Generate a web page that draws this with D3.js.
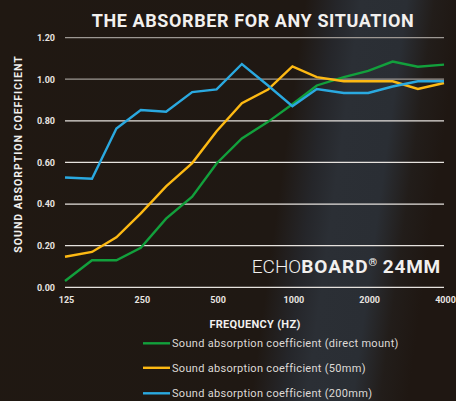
<!DOCTYPE html>
<html><head><meta charset="utf-8">
<script src="https://cdn.jsdelivr.net/npm/d3@7"></script>
<style>
html,body{margin:0;padding:0;background:#1e1712;}
svg{display:block;}
</style></head>
<body>
<svg id="chart" width="456" height="401"></svg>
<script>
const frequencies = [125,160,200,250,315,400,500,630,800,1000,1250,1600,2000,2500,3150,4000];
const directMount = [0.03,0.13,0.13,0.19,0.33,0.435,0.595,0.715,0.795,0.88,0.97,1.01,1.04,1.085,1.06,1.07];
const mm50 = [0.147,0.17,0.24,0.355,0.485,0.597,0.75,0.885,0.95,1.062,1.01,0.99,0.99,0.99,0.953,0.982];
const mm200 = [0.528,0.522,0.763,0.852,0.844,0.938,0.951,1.073,0.97,0.87,0.953,0.934,0.934,0.965,0.99,0.99];
const xTicks = [125,250,500,1000,2000,4000];
const yTicks = [0,0.2,0.4,0.6,0.8,1.0,1.2];
const seriesNames = ["Sound absorption coefficient (direct mount)","Sound absorption coefficient (50mm)","Sound absorption coefficient (200mm)"];
const seriesColors = ["#12a03c","#fdb913","#2aa9e0"];

const svg = d3.select("#chart");
const W = 456, H = 401;
const defs = svg.append("defs");
const g1 = defs.append("linearGradient").attr("id","bg").attr("x1","0").attr("y1","0").attr("x2","1").attr("y2","0.12");
[[0,"#201812"],[0.66,"#1f1813"],[0.73,"#25262a"],[0.78,"#2b2f35"],[0.88,"#2a2e34"],[0.94,"#221d1a"],[1,"#1f1712"]]
  .forEach(s=>g1.append("stop").attr("offset",s[0]).attr("stop-color",s[1]));
svg.append("rect").attr("width",W).attr("height",H).attr("fill","url(#bg)");

const x = d3.scaleLog().domain([125,4000]).range([65,444]);
const y = d3.scaleLinear().domain([0,1.2]).range([287.3,37.6]);

// grid
svg.append("g").selectAll("line").data(yTicks).join("line")
  .attr("x1",65).attr("x2",444)
  .attr("y1",d=>y(d)).attr("y2",d=>y(d))
  .attr("stroke",d=>d>=0.99?"#9d9893":"#e6e2de")
  .attr("stroke-width",1.3);

// y labels
const yAxis = d3.axisLeft(y).tickValues(yTicks).tickFormat(d3.format(".2f")).tickSize(0).tickPadding(0);
const ya = svg.append("g").attr("transform","translate(55,0)").call(yAxis);
ya.select(".domain").remove();
ya.selectAll("text").attr("fill","#e8e4e0").attr("font-family","Roboto, sans-serif").attr("font-weight","bold").attr("font-size","9px");

// x labels
const xAxis = d3.axisBottom(x).tickValues(xTicks).tickFormat(d=>d).tickSize(0).tickPadding(0);
const xa = svg.append("g").attr("transform","translate(1,297)").call(xAxis);
xa.select(".domain").remove();
xa.selectAll("text").attr("fill","#e8e4e0").attr("font-family","Roboto, sans-serif").attr("font-weight","bold").attr("font-size","9px");

// lines
const line = d3.line().x(d=>x(d[0])).y(d=>y(d[1]));
[directMount,mm50,mm200].forEach((vals,i)=>{
  svg.append("path").datum(frequencies.map((f,j)=>[f,vals[j]]))
    .attr("d",line).attr("fill","none").attr("stroke",seriesColors[i])
    .attr("stroke-width",2.4).attr("stroke-linejoin","miter");
});

// title
svg.append("text").attr("x",253).attr("y",27).attr("text-anchor","middle")
  .attr("fill","#f2f0ee").attr("font-family","Roboto, sans-serif").attr("font-weight","bold")
  .attr("font-size","18px").attr("letter-spacing","0.6px").text("THE ABSORBER FOR ANY SITUATION");

// y title
svg.append("text").attr("transform","translate(22,154) rotate(-90)").attr("text-anchor","middle")
  .attr("fill","#f2f0ee").attr("font-family","Roboto, sans-serif").attr("font-weight","bold")
  .attr("font-size","10.5px").attr("letter-spacing","1px").text("SOUND ABSORPTION COEFFICIENT");

// x title
svg.append("text").attr("x",255).attr("y",328).attr("text-anchor","middle")
  .attr("fill","#f2f0ee").attr("font-family","Roboto, sans-serif").attr("font-weight","bold")
  .attr("font-size","11px").attr("letter-spacing","0.3px").text("FREQUENCY (HZ)");

// brand
const brand = svg.append("text").attr("x",441).attr("y",273).attr("text-anchor","end")
  .attr("fill","#f2f0ee").attr("font-family","Roboto, sans-serif").attr("font-size","19px");
brand.append("tspan").attr("font-weight","300").text("ECHO");
brand.append("tspan").attr("font-weight","bold").attr("letter-spacing","1px").text("BOARD");
brand.append("tspan").attr("font-weight","bold").attr("font-size","11px").attr("dy","-7").text("®");
brand.append("tspan").attr("font-weight","bold").attr("dy","7").attr("letter-spacing","0.8px").text(" 24MM");

// legend
const legY = [343.3,367.8,393.3];
const leg = svg.append("g");
seriesNames.forEach((n,i)=>{
  leg.append("line").attr("x1",143).attr("x2",170).attr("y1",legY[i]).attr("y2",legY[i])
    .attr("stroke",seriesColors[i]).attr("stroke-width",2.4);
  leg.append("text").attr("x",172).attr("y",legY[i]+4).attr("fill","#dedad6")
    .attr("font-family","Roboto, sans-serif").attr("font-size","11px").attr("letter-spacing","0.3px").text(n);
});
</script>
</body></html>
